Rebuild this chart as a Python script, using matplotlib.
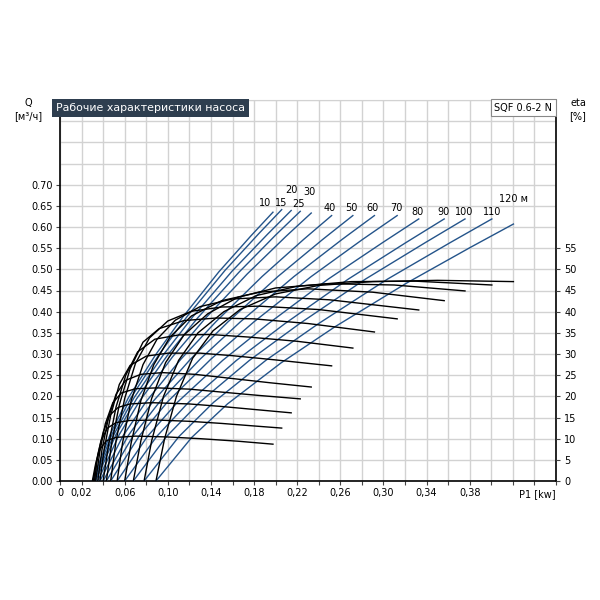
import numpy as np
import matplotlib.pyplot as plt

# pump head of each curve pair [m]
heads = [10, 15, 20, 25, 30, 40, 50, 60, 70, 80, 90, 100, 110, 120]

# flow curves: Q [m3/h] against P1 [kW], one list per head
flow_p1 = [
    [0.030, 0.0468, 0.0635, 0.0886, 0.1138, 0.1473, 0.1774, 0.1975],
    [0.031, 0.0485, 0.0659, 0.0921, 0.1183, 0.1532, 0.1846, 0.2056],
    [0.032, 0.0502, 0.0685, 0.0958, 0.1232, 0.1597, 0.1925, 0.2144],
    [0.033, 0.0520, 0.0710, 0.0994, 0.1279, 0.1659, 0.2000, 0.2228],
    [0.035, 0.0548, 0.0746, 0.1043, 0.1340, 0.1736, 0.2092, 0.2330],
    [0.037, 0.0585, 0.0800, 0.1122, 0.1445, 0.1874, 0.2261, 0.2519],
    [0.040, 0.0632, 0.0863, 0.1211, 0.1558, 0.2021, 0.2438, 0.2716],
    [0.043, 0.0679, 0.0927, 0.1300, 0.1673, 0.2170, 0.2618, 0.2916],
    [0.047, 0.0736, 0.1001, 0.1400, 0.1799, 0.2330, 0.2808, 0.3127],
    [0.053, 0.0810, 0.1089, 0.1509, 0.1929, 0.2488, 0.2991, 0.3327],
    [0.060, 0.0896, 0.1193, 0.1637, 0.2082, 0.2674, 0.3207, 0.3563],
    [0.068, 0.0988, 0.1295, 0.1757, 0.2218, 0.2833, 0.3387, 0.3756],
    [0.078, 0.1103, 0.1425, 0.1909, 0.2393, 0.3038, 0.3618, 0.4005],
    [0.089, 0.1222, 0.1553, 0.2050, 0.2548, 0.3211, 0.3807, 0.4205],
]
flow_q = [
    [0, 0.112, 0.197, 0.298, 0.387, 0.494, 0.580, 0.635],
    [0, 0.112, 0.197, 0.300, 0.390, 0.498, 0.585, 0.641],
    [0, 0.111, 0.196, 0.298, 0.388, 0.496, 0.583, 0.639],
    [0, 0.110, 0.194, 0.296, 0.386, 0.493, 0.581, 0.637],
    [0, 0.109, 0.192, 0.293, 0.382, 0.489, 0.577, 0.633],
    [0, 0.107, 0.188, 0.288, 0.376, 0.483, 0.571, 0.627],
    [0, 0.107, 0.188, 0.288, 0.376, 0.483, 0.571, 0.627],
    [0, 0.107, 0.188, 0.288, 0.376, 0.483, 0.571, 0.627],
    [0, 0.107, 0.188, 0.288, 0.376, 0.483, 0.571, 0.627],
    [0, 0.105, 0.186, 0.285, 0.371, 0.477, 0.563, 0.619],
    [0, 0.105, 0.186, 0.285, 0.371, 0.477, 0.563, 0.619],
    [0, 0.105, 0.186, 0.285, 0.371, 0.477, 0.563, 0.619],
    [0, 0.105, 0.186, 0.285, 0.371, 0.477, 0.563, 0.619],
    [0, 0.103, 0.182, 0.279, 0.364, 0.467, 0.552, 0.607],
]

# efficiency curves: eta [%] against P1 [kW]
eta_p1 = [
    [0.030, 0.033, 0.037, 0.043, 0.052, 0.070, 0.100, 0.130, 0.165, 0.1975],
    [0.031, 0.034, 0.038, 0.044, 0.052, 0.065, 0.090, 0.120, 0.150, 0.180, 0.2056],
    [0.032, 0.035, 0.040, 0.046, 0.054, 0.065, 0.085, 0.120, 0.150, 0.180, 0.2144],
    [0.033, 0.037, 0.042, 0.049, 0.057, 0.070, 0.090, 0.120, 0.150, 0.185, 0.2228],
    [0.035, 0.039, 0.045, 0.052, 0.061, 0.075, 0.095, 0.125, 0.160, 0.195, 0.2330],
    [0.037, 0.041, 0.047, 0.055, 0.065, 0.080, 0.100, 0.130, 0.160, 0.200, 0.2519],
    [0.040, 0.045, 0.052, 0.061, 0.072, 0.088, 0.110, 0.140, 0.175, 0.220, 0.2716],
    [0.043, 0.048, 0.055, 0.065, 0.077, 0.092, 0.115, 0.145, 0.180, 0.230, 0.2916],
    [0.047, 0.052, 0.060, 0.070, 0.083, 0.100, 0.122, 0.150, 0.185, 0.240, 0.3127],
    [0.053, 0.058, 0.066, 0.077, 0.090, 0.107, 0.130, 0.160, 0.200, 0.250, 0.3327],
    [0.060, 0.066, 0.075, 0.087, 0.102, 0.122, 0.150, 0.185, 0.230, 0.290, 0.3563],
    [0.068, 0.075, 0.085, 0.098, 0.115, 0.137, 0.165, 0.200, 0.250, 0.310, 0.3756],
    [0.078, 0.085, 0.096, 0.110, 0.128, 0.152, 0.182, 0.220, 0.270, 0.330, 0.4005],
    [0.089, 0.097, 0.108, 0.123, 0.142, 0.167, 0.200, 0.240, 0.290, 0.350, 0.4205],
]
eta_val = [
    [0, 4.0, 7.5, 9.5, 10.3, 10.6, 10.4, 10.0, 9.4, 8.7],
    [0, 5.0, 9.5, 12.5, 13.8, 14.3, 14.4, 14.1, 13.6, 13.0, 12.5],
    [0, 6.0, 11.5, 15.5, 17.4, 18.2, 18.5, 18.2, 17.6, 16.9, 16.1],
    [0, 7.0, 13.5, 18.5, 20.8, 21.8, 22.0, 21.7, 21.0, 20.2, 19.4],
    [0, 7.5, 15.0, 20.5, 23.8, 25.2, 25.6, 25.2, 24.2, 23.2, 22.2],
    [0, 7.5, 15.5, 22.8, 27.3, 29.5, 30.2, 30.2, 29.6, 28.6, 27.2],
    [0, 8.5, 17.5, 25.0, 30.5, 33.5, 34.5, 34.6, 34.0, 33.0, 31.4],
    [0, 9.0, 18.0, 26.5, 32.8, 36.0, 37.9, 38.5, 38.3, 37.2, 35.2],
    [0, 9.5, 19.5, 27.8, 33.8, 37.8, 40.1, 41.1, 41.3, 40.5, 38.3],
    [0, 9.0, 19.0, 27.5, 33.5, 38.0, 41.2, 43.0, 43.5, 42.8, 40.4],
    [0, 9.0, 19.0, 27.5, 34.0, 39.0, 42.6, 44.6, 45.4, 44.6, 42.6],
    [0, 9.5, 19.5, 28.0, 34.5, 39.5, 43.4, 45.6, 46.6, 46.3, 44.9],
    [0, 9.5, 20.0, 28.5, 35.0, 40.0, 43.8, 46.0, 47.1, 47.2, 46.3],
    [0, 10.0, 20.0, 29.0, 35.5, 40.5, 44.2, 46.2, 47.1, 47.4, 47.1],
]

x_ticks = np.round(np.arange(0, 0.461, 0.02), 2)
x_labels = ["0", "0,02", "0,06", "0,10", "0,14", "0,18", "0,22", "0,26", "0,30", "0,34", "0,38"]
q_ticks = np.round(np.arange(0, 0.701, 0.05), 2)
eta_ticks = np.arange(0, 56, 5)

# head label offsets (pixels from the end of each flow curve)
label_dx = [-8, -1, 0, -2, -2, -2, -1, -2, -1, -1, -1, -1, 0, 0]
label_dy = [4, 2, 15, 2, 16, 3, 3, 3, 3, 2, 2, 2, 2, 20]

blue = "#24548a"
grid_c = "#d2d2d2"

fig = plt.figure(figsize=(6, 6), dpi=100)
ax = fig.add_axes([60 / 600, 119 / 600, 496 / 600, 381 / 600])
ax.set_xlim(0, 0.46)
ax.set_ylim(0, 0.9)

ax.set_xticks(x_ticks)
shown = {0.0, 0.02, 0.06, 0.10, 0.14, 0.18, 0.22, 0.26, 0.30, 0.34, 0.38}
it = iter(x_labels)
ax.set_xticklabels([next(it) if round(t, 2) in shown else "" for t in x_ticks])
ax.set_yticks(q_ticks)
ax.set_yticklabels([f"{v:.2f}" for v in q_ticks])
ax.set_yticks(np.round(np.arange(0.75, 0.91, 0.05), 2), minor=True)
ax.tick_params(axis="y", which="minor", length=0)
ax.tick_params(axis="both", which="major", labelsize=7, length=3, width=0.8,
               color="#444444", pad=2)
ax.grid(True, which="both", color=grid_c, lw=1.0)
ax.set_axisbelow(True)
for side in ["left", "bottom", "right"]:
    ax.spines[side].set_color("black")
    ax.spines[side].set_linewidth(1.2)
ax.spines["top"].set_color(grid_c)

for i, h in enumerate(heads):
    ax.plot(flow_p1[i], flow_q[i], color=blue, lw=1.0, zorder=3)
    name = f"{h} м" if h == heads[-1] else str(h)
    ax.annotate(name, xy=(flow_p1[i][-1], flow_q[i][-1]),
                xytext=(label_dx[i], label_dy[i]), textcoords="offset pixels",
                ha="center", va="bottom", fontsize=7)

ax.text(0.443, -0.02, "P1 [kw]", transform=ax.transData, ha="center", va="top",
        fontsize=7)

ax2 = ax.twinx()
ax2.set_ylim(0, 90)
ax2.set_yticks(eta_ticks)
ax2.tick_params(axis="y", labelsize=7, length=3, width=0.8, color="#444444", pad=3)
for side in ["left", "bottom", "top", "right"]:
    ax2.spines[side].set_visible(False)
for i in range(len(heads)):
    ax2.plot(eta_p1[i], eta_val[i], color="black", lw=1.0)

fig.text(28 / 600, 1 - 103 / 600, "Q", ha="center", va="center", fontsize=7)
fig.text(28 / 600, 1 - 116 / 600, "[м³/ч]", ha="center", va="center", fontsize=7)
fig.text(578 / 600, 1 - 103 / 600, "eta", ha="center", va="center", fontsize=7)
fig.text(578 / 600, 1 - 116 / 600, "[%]", ha="center", va="center", fontsize=7)

fig.text(56 / 600, 1 - 108 / 600, "Рабочие характеристики насоса", color="white",
         ha="left", va="center", fontsize=7.9,
         bbox=dict(facecolor="#2e3e4f", edgecolor="none", pad=2.5))
fig.text(552 / 600, 1 - 108 / 600, "SQF 0.6-2 N", ha="right", va="center", fontsize=7,
         bbox=dict(facecolor="white", edgecolor="#888888", lw=0.8, pad=2.5))

fig.savefig("out.png", dpi=100)
